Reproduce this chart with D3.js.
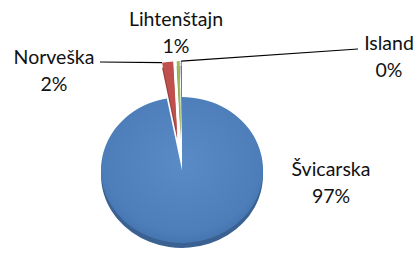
<!DOCTYPE html>
<html><head><meta charset="utf-8">
<script src="https://cdn.jsdelivr.net/npm/d3@7"></script>
<style>html,body{margin:0;padding:0;background:#fff}svg{display:block}</style>
</head><body>
<svg id="c" width="419" height="255"></svg>
<script>
const categories = ["Švicarska", "Norveška", "Lihtenštajn", "Island"];
const values = [97.0, 2.2, 0.6, 0.2];
const colors = ["#4F81BD", "#C0504D", "#9BBB59", "#8064A2"];
const sideColors = ["#3A6191", "#933B39", "#76903F", "#5F4A7B"];
const exploded = [0, 40, 40, 40];

const W = 419, H = 255;
const cx = 182, cy = 170, R = 81, tilt = 0.9, depth = 5;
// label anchors (text centre x, first line baseline y) and leader line start
const labelLayout = [
  {x: 331, y: 176, line: null},
  {x: 54,  y: 64,  line: [100, 62]},
  {x: 176, y: 26,  line: null},
  {x: 389, y: 50,  line: [358, 49]}
];

const svg = d3.select("#c");
const total = d3.sum(values);
const pie = d3.pie().sort(null).value(d => d);
const arcs = pie(values);
const arc = d3.arc().innerRadius(0).outerRadius(R);

function offset(a, k) {
  const m = (a.startAngle + a.endAngle) / 2;
  return [Math.sin(m) * exploded[k], -Math.cos(m) * exploded[k]];
}

const defs = svg.append("defs");
const grad = defs.append("radialGradient").attr("id", "g0")
  .attr("cx", "50%").attr("cy", "45%").attr("r", "60%");
grad.append("stop").attr("offset", "0%").attr("stop-color", "#5A8BC6");
grad.append("stop").attr("offset", "80%").attr("stop-color", "#4D7EBA");
grad.append("stop").attr("offset", "100%").attr("stop-color", "#416FA8");

// depth
const gSide = svg.append("g").attr("transform", `translate(${cx},${cy + depth}) scale(1,${tilt})`);
gSide.selectAll("path").data(arcs).join("path")
  .attr("transform", (d, i) => { const o = offset(d, i); return `translate(${o[0]},${o[1]})`; })
  .attr("d", arc).attr("fill", (d, i) => sideColors[i]);

const gTop = svg.append("g").attr("transform", `translate(${cx},${cy}) scale(1,${tilt})`);
gTop.selectAll("path").data(arcs).join("path")
  .attr("transform", (d, i) => { const o = offset(d, i); return `translate(${o[0]},${o[1]})`; })
  .attr("d", arc)
  .attr("fill", (d, i) => i === 0 ? "url(#g0)" : colors[i]);

// leader lines
function outerPoint(d, i, ang) {
  const o = offset(d, i);
  return [cx + o[0] + Math.sin(ang) * R, cy + (o[1] - Math.cos(ang) * R) * tilt];
}
arcs.forEach((d, i) => {
  const L = labelLayout[i];
  if (!L.line) return;
  const p = i === 1 ? outerPoint(d, i, d.startAngle) : outerPoint(d, i, (d.startAngle + d.endAngle) / 2);
  svg.append("line").attr("x1", L.line[0]).attr("y1", L.line[1])
    .attr("x2", p[0]).attr("y2", p[1]).attr("stroke", "#000").attr("stroke-width", 1.2);
});

// labels
const font = "Lato, 'Noto Sans', sans-serif";
arcs.forEach((d, i) => {
  const L = labelLayout[i];
  const t = svg.append("text").attr("x", L.x).attr("y", L.y)
    .attr("text-anchor", "middle").attr("font-family", font)
    .attr("font-size", 19.5).attr("fill", "#111");
  t.append("tspan").attr("x", L.x).text(categories[i]);
  t.append("tspan").attr("x", L.x).attr("dy", 27).text(Math.round(values[i] / total * 100) + "%");
});
</script>
</body></html>
